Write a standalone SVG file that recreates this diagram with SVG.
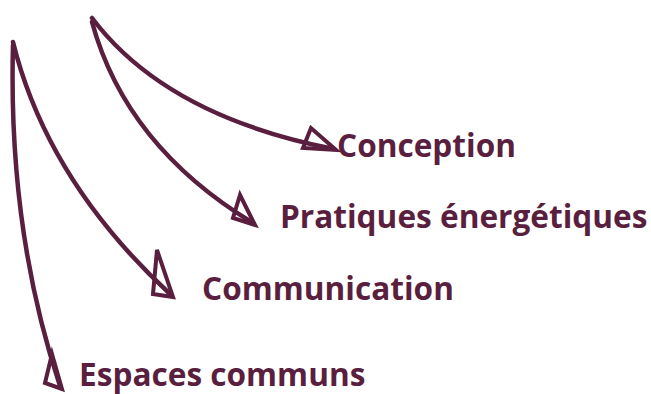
<svg xmlns="http://www.w3.org/2000/svg" width="651" height="394" viewBox="0 0 651 394">
<style>
.edge{fill:none;stroke:#5a1f3e;stroke-width:4.5;stroke-linecap:round;stroke-linejoin:round}
.head{fill:none;stroke:#5a1f3e;stroke-width:4;stroke-linejoin:miter}
.lbl{font-family:"Open Sans","DejaVu Sans",sans-serif;font-weight:700;font-size:31.6px;fill:#5a1f3e}
</style>
<rect width="651" height="394" fill="#ffffff"/>
<g id="connectors">
<path class="edge" d="M92,18 Q166,116 334,149"/>
<path class="head" d="M311,128 L303,148 L336,150 Z"/>
<path class="edge" d="M92,22 Q126,146 253,223"/>
<path class="head" d="M240,195 L233,218 L255,225 Z"/>
<path class="edge" d="M13,42 Q47,180 170,294"/>
<path class="head" d="M157,250 L153,294 L173,297 Z"/>
<path class="edge" d="M13,45 Q8,230 60,386"/>
<path class="head" d="M52,354 L45,383 L62,389 Z"/>
</g>
<g id="conception"><text class="lbl" x="337" y="157">Conception</text></g>
<g id="pratiques"><text class="lbl" x="280" y="228">Pratiques énergétiques</text></g>
<g id="communication"><text class="lbl" x="202" y="300">Communication</text></g>
<g id="espaces"><text class="lbl" x="79" y="386">Espaces communs</text></g>
</svg>
